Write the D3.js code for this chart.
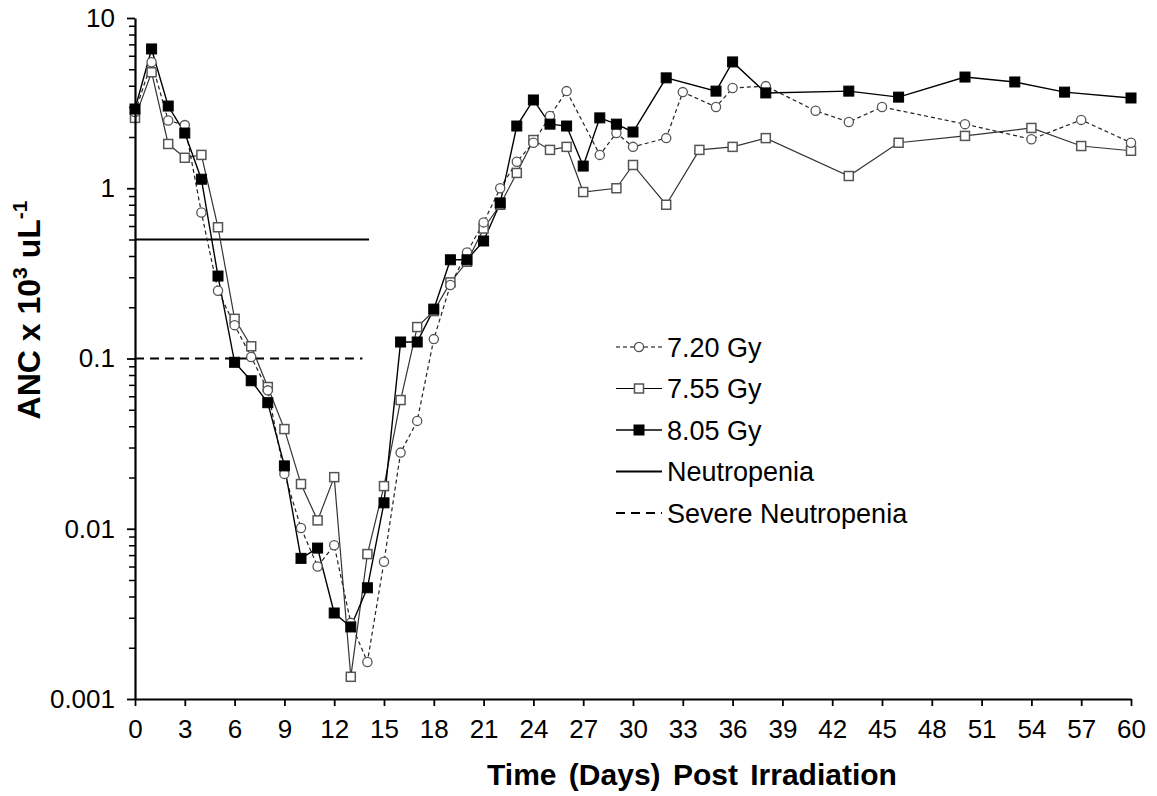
<!DOCTYPE html>
<html>
<head>
<meta charset="utf-8">
<script src="https://cdn.jsdelivr.net/npm/d3@7"></script>
<style>
  body { margin: 0; background: #fff; }
  svg text { font-family: "Liberation Sans", Arial, sans-serif; fill: #000; }
  .axis path, .axis line { stroke: #000; }
</style>
</head>
<body>
<div id="chart"></div>
<script>
// values (ANC x 10^3 / uL)
var gy720Days = [0,1,2,3,4,5,6,7,8,9,10,11,12,13,14,15,16,17,18,19,20,21,22,23,24,25,26,28,29,30,32,33,35,36,38,41,43,45,50,54,57,60]
var gy720Vals = [2.8,5.5,2.5,2.35,0.72,0.25,0.157,0.102,0.065,0.021,0.0101,0.006,0.008,0.0028,0.00165,0.0064,0.028,0.043,0.13,0.27,0.42,0.63,1.0,1.43,1.85,2.66,3.72,1.57,2.11,1.75,1.97,3.67,3.0,3.88,3.98,2.85,2.45,3.0,2.38,1.94,2.52,1.85]

var gy755Days = [0,1,2,3,4,5,6,7,8,9,10,11,12,13,14,15,16,17,18,19,20,21,22,23,24,25,26,27,29,30,32,34,36,38,43,46,50,54,57,60]
var gy755Vals = [2.59,4.8,1.82,1.51,1.57,0.59,0.171,0.118,0.068,0.0385,0.0183,0.0112,0.0201,0.00135,0.0071,0.0178,0.057,0.153,0.19,0.28,0.37,0.58,0.8,1.23,1.92,1.68,1.75,0.95,1.0,1.37,0.8,1.68,1.75,1.97,1.18,1.85,2.03,2.26,1.77,1.66]

var gy805Days = [0,1,2,3,4,5,6,7,8,9,10,11,12,13,14,15,16,17,18,19,20,21,22,23,24,25,26,27,28,29,30,32,35,36,38,43,46,50,53,56,60]
var gy805Vals = [2.92,6.58,3.04,2.11,1.13,0.305,0.095,0.074,0.055,0.0234,0.0067,0.0077,0.0032,0.00265,0.0045,0.0142,0.125,0.125,0.195,0.38,0.38,0.49,0.82,2.32,3.3,2.38,2.32,1.35,2.59,2.38,2.14,4.45,3.72,5.52,3.63,3.72,3.43,4.5,4.21,3.67,3.39]

// threshold lines: [value, last day drawn]
var neutropenia = [0.5, 14.1]
var severeNeutropenia = [0.1, 13.7]

var xTicks = d3.range(0, 61, 3)
var yTicks = [0.001, 0.01, 0.1, 1, 10]
var legendLabels = ["7.20 Gy", "7.55 Gy", "8.05 Gy", "Neutropenia", "Severe Neutropenia"]

function zip(days, vals) {
  return days.map((d, i) => ({x: d, y: vals[i]}))
}

var series = [
  {label: "7.55 Gy", data: zip(gy755Days, gy755Vals), marker: "openSquare", dash: null, stroke: "#333", sw: 1.2},
  {label: "7.20 Gy", data: zip(gy720Days, gy720Vals), marker: "circle", dash: "4,3", stroke: "#222", sw: 1.2},
  {label: "8.05 Gy", data: zip(gy805Days, gy805Vals), marker: "filledSquare", dash: null, stroke: "#000", sw: 1.4}
]

var W = 1157, H = 796

var svg = d3.select("#chart").append("svg")
  .attr("width", W)
  .attr("height", H)

var x = d3.scaleLinear().domain([0, 60]).range([135, 1131])
var y = d3.scaleLog().domain([0.001, 10]).range([699, 18])

function drawMarker(g, type, cx, cy) { //{{{
  if (type == "circle") {
    g.append("circle").attr("cx", cx).attr("cy", cy).attr("r", 4.6)
      .attr("fill", "#fff").attr("stroke", "#555").attr("stroke-width", 1.3)
  } else if (type == "openSquare") {
    g.append("rect").attr("x", cx - 4.5).attr("y", cy - 4.5).attr("width", 9).attr("height", 9)
      .attr("fill", "#fff").attr("stroke", "#555").attr("stroke-width", 1.5)
  } else {
    g.append("rect").attr("x", cx - 5).attr("y", cy - 5).attr("width", 10).attr("height", 10)
      .attr("fill", "#000").attr("stroke", "#000").attr("stroke-width", 1)
  }
} //}}}

// threshold lines
svg.append("line")
  .attr("x1", x(0)).attr("x2", x(neutropenia[1]))
  .attr("y1", y(neutropenia[0])).attr("y2", y(neutropenia[0]))
  .attr("stroke", "#000").attr("stroke-width", 2)

svg.append("line")
  .attr("x1", x(0)).attr("x2", x(severeNeutropenia[1]))
  .attr("y1", y(severeNeutropenia[0])).attr("y2", y(severeNeutropenia[0]))
  .attr("stroke", "#000").attr("stroke-width", 2)
  .attr("stroke-dasharray", "9,6")

var line = d3.line()
  .x(d => x(d.x))
  .y(d => y(d.y))

series.forEach(s => {
  svg.append("path")
    .datum(s.data)
    .attr("fill", "none")
    .attr("stroke", s.stroke)
    .attr("stroke-width", s.sw)
    .attr("stroke-dasharray", s.dash)
    .attr("d", line)
})

series.forEach(s => {
  var g = svg.append("g")
  s.data.forEach(d => drawMarker(g, s.marker, x(d.x), y(d.y)))
})

// axes
var yMinor = []
for (var e = -3; e < 1; e++)
  for (var m = 2; m < 10; m++) yMinor.push(m * Math.pow(10, e))

svg.append("g")
  .attr("class", "axis")
  .attr("transform", "translate(" + x(0) + ",0)")
  .call(d3.axisLeft(y).tickValues(yMinor).tickFormat("").tickSize(6).tickSizeOuter(0))
  .call(g => g.select(".domain").remove())
  .selectAll("line").attr("stroke-width", 1.5)

var yAxis = svg.append("g")
  .attr("class", "axis")
  .attr("transform", "translate(" + x(0) + ",0)")
  .call(d3.axisLeft(y).tickValues(yTicks).tickFormat(d => String(d)).tickSize(8).tickSizeOuter(0).tickPadding(12))
yAxis.select(".domain").attr("stroke-width", 2.2)
yAxis.selectAll("line").attr("stroke-width", 1.8)
yAxis.selectAll("text").style("font-size", "26px")

var xAxis = svg.append("g")
  .attr("class", "axis")
  .attr("transform", "translate(0," + y(0.001) + ")")
  .call(d3.axisBottom(x).tickValues(xTicks).tickSize(7).tickSizeOuter(0).tickPadding(14))
xAxis.select(".domain").attr("stroke-width", 2.2)
xAxis.selectAll("line").attr("stroke-width", 1.8)
xAxis.selectAll("text").style("font-size", "26px")

// axis titles
svg.append("text")
  .attr("x", 692).attr("y", 785)
  .style("text-anchor", "middle")
  .style("font-size", "30px")
  .style("font-weight", "bold")
  .style("word-spacing", "4px")
  .text("Time (Days) Post Irradiation")

var yt = svg.append("text")
  .attr("transform", "translate(40,310) rotate(-90)")
  .style("text-anchor", "middle")
  .style("font-size", "32px")
  .style("font-weight", "bold")
yt.append("tspan").text("ANC x 10")
yt.append("tspan").attr("dy", -13).style("font-size", "21px").text("3")
yt.append("tspan").attr("dy", 13).text(" uL")
yt.append("tspan").attr("dy", -13).style("font-size", "21px").text("-1")

// legend
var legend = svg.append("g").attr("transform", "translate(616,347)")
var legendItems = [
  {marker: "circle", dash: "4,3", sw: 1.2},
  {marker: "openSquare", dash: null, sw: 1.2},
  {marker: "filledSquare", dash: null, sw: 1.4},
  {marker: null, dash: null, sw: 2},
  {marker: null, dash: "9,6", sw: 2}
]
legendItems.forEach((it, i) => {
  var g = legend.append("g").attr("transform", "translate(0," + (i * 41.5) + ")")
  g.append("line")
    .attr("x1", 0).attr("x2", 46).attr("y1", 0).attr("y2", 0)
    .attr("stroke", "#000").attr("stroke-width", it.sw)
    .attr("stroke-dasharray", it.dash)
  if (it.marker) drawMarker(g, it.marker, 23, 0)
  g.append("text")
    .attr("x", 51).attr("y", 0).attr("dy", "0.36em")
    .style("font-size", "27px")
    .text(legendLabels[i])
})
</script>
</body>
</html>
